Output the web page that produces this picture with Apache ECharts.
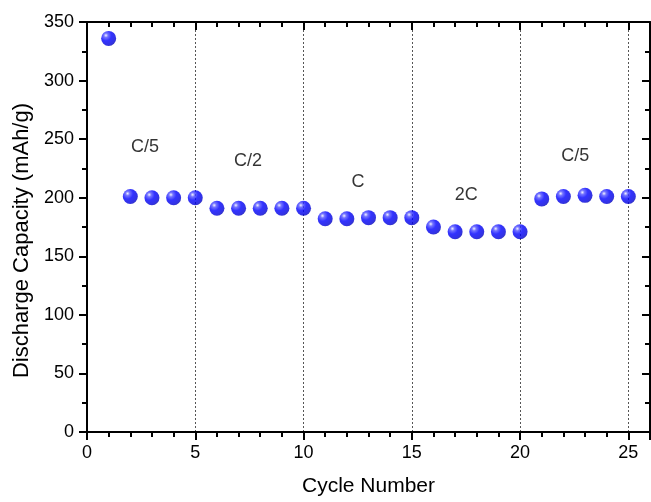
<!DOCTYPE html>
<html>
<head>
<meta charset="utf-8">
<script src="https://cdn.jsdelivr.net/npm/echarts@6/dist/echarts.min.js"></script>
<style>
  html, body { margin: 0; padding: 0; background: #fff; }
  #chart { width: 651px; height: 502px; }
</style>
</head>
<body>
<div id="chart"></div>
<script>
// Rate capability: discharge capacity per cycle
const cycles = [1, 2, 3, 4, 5, 6, 7, 8, 9, 10, 11, 12, 13, 14, 15, 16, 17, 18, 19, 20, 21, 22, 23, 24, 25];
const capacity = [336, 201, 200, 200, 200, 191, 191, 191, 191, 191, 182, 182, 183, 183, 183, 175, 171, 171, 171, 171, 199, 201, 202, 201, 201];

// C-rate annotations: [x, y, text]
const rateLabels = [
  [2.68, 243, 'C/5'],
  [7.44, 231, 'C/2'],
  [12.52, 213, 'C'],
  [17.51, 202, '2C'],
  [22.55, 236, 'C/5']
];

const FONT = 'Liberation Sans, Arial, sans-serif';
const chart = echarts.init(document.getElementById('chart'), null, { renderer: 'canvas' });

const axisLine = { show: true, onZero: false, lineStyle: { color: '#000', width: 2 } };
const majorTickOut = { show: true, inside: false, length: 8, lineStyle: { color: '#000', width: 2 } };
const majorTickIn = { show: true, inside: true, length: 8, lineStyle: { color: '#000', width: 2 } };

// shaded-sphere fill for the markers
const sphere = new echarts.graphic.RadialGradient(0.32, 0.3, 0.8, [
  { offset: 0, color: '#f0f0ff' },
  { offset: 0.18, color: '#5050ff' },
  { offset: 0.45, color: '#0000ff' },
  { offset: 0.85, color: '#0000d8' },
  { offset: 1, color: '#00009a' }
]);

chart.setOption({
  animation: false,
  grid: { left: 87, right: 1, top: 22, bottom: 66, containLabel: false },
  xAxis: [
    {
      type: 'value', min: 0, max: 26, interval: 5, position: 'bottom',
      name: 'Cycle Number', nameLocation: 'middle', nameGap: 44,
      nameTextStyle: { fontFamily: FONT, fontSize: 21, color: '#000' },
      axisLine: axisLine,
      axisTick: majorTickOut,
      minorTick: { show: true, splitNumber: 5, length: 5, lineStyle: { color: '#000', width: 2 } },
      axisLabel: { fontFamily: FONT, fontSize: 18, color: '#000', margin: 12, showMaxLabel: false },
      splitLine: { show: true, lineStyle: { color: '#555', width: 1, type: [2, 2] } }
    },
    {
      type: 'value', min: 0, max: 26, interval: 5, position: 'top',
      axisLine: axisLine,
      axisTick: majorTickIn,
      minorTick: { show: true, splitNumber: 5, length: 5, lineStyle: { color: '#000', width: 2 } },
      axisLabel: { show: false },
      splitLine: { show: false }
    }
  ],
  yAxis: [
    {
      type: 'value', min: 0, max: 350, interval: 50, position: 'left',
      name: 'Discharge Capacity (mAh/g)', nameLocation: 'middle', nameGap: 54,
      nameTextStyle: { fontFamily: FONT, fontSize: 22, color: '#000', padding: [0, 27, 0, 0] },
      axisLine: axisLine,
      axisTick: majorTickOut,
      minorTick: { show: true, splitNumber: 2, length: 5, lineStyle: { color: '#000', width: 2 } },
      axisLabel: { fontFamily: FONT, fontSize: 18, color: '#000', margin: 13 },
      splitLine: { show: false }
    },
    {
      type: 'value', min: 0, max: 350, interval: 50, position: 'right',
      axisLine: axisLine,
      axisTick: majorTickIn,
      minorTick: { show: true, splitNumber: 2, length: 5, lineStyle: { color: '#000', width: 2 } },
      axisLabel: { show: false },
      splitLine: { show: false }
    }
  ],
  series: [
    {
      type: 'scatter',
      data: cycles.map((c, i) => [c, capacity[i]]),
      symbol: 'circle',
      symbolSize: 15,
      itemStyle: { color: sphere },
      z: 5
    },
    {
      type: 'scatter',
      data: rateLabels.map(r => ({ value: [r[0], r[1]], name: r[2] })),
      symbolSize: 0,
      silent: true,
      label: {
        show: true, position: 'inside', formatter: '{b}',
        fontFamily: FONT, fontSize: 18, color: '#000'
      },
      z: 6
    }
  ]
});
</script>
</body>
</html>
